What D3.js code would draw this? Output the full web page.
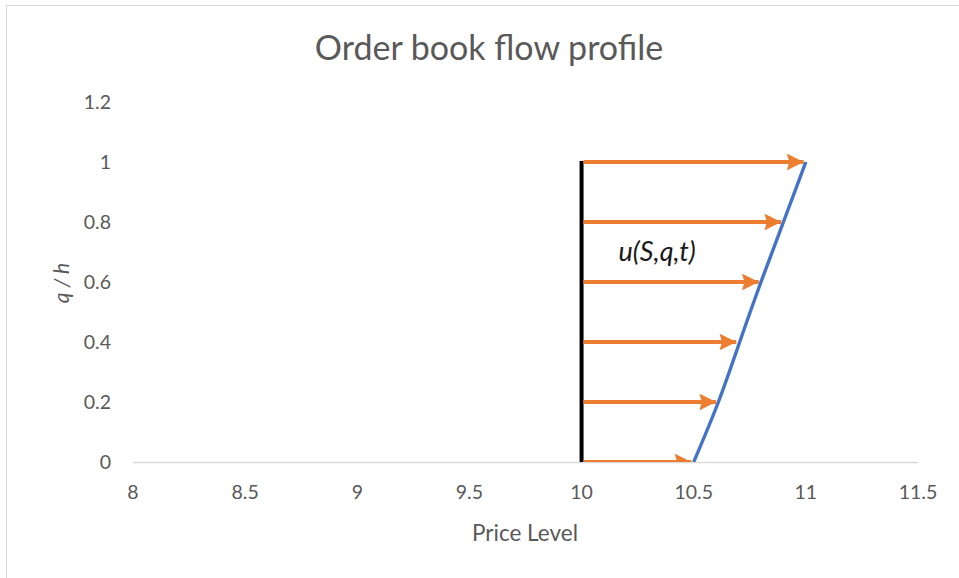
<!DOCTYPE html>
<html><head><meta charset="utf-8">
<script src="https://cdn.jsdelivr.net/npm/d3@7"></script>
<style>body{margin:0;background:#fff}svg{display:block}text{font-family:Lato,"Open Sans",sans-serif;fill:#595959}</style>
</head><body><svg id="c" width="959" height="578"></svg>
<script>
const title = "Order book flow profile";
const xLabel = "Price Level";
const yLabel = "q / h";
const xTicks = [8, 8.5, 9, 9.5, 10, 10.5, 11, 11.5];
const yTicks = [0, 0.2, 0.4, 0.6, 0.8, 1, 1.2];
const levels = [0, 0.2, 0.4, 0.6, 0.8, 1];
const profile = [10.5, 10.61, 10.705, 10.80, 10.90, 11.0];
const arrowEnds = [10.49, 10.60, 10.69, 10.79, 10.89, 10.99];
const wallPrice = 10;
const annotation = "u(S,q,t)";
const annotationPos = [10.165, 0.7];

const svg = d3.select("#c");
const x = d3.scaleLinear().domain([8, 11.5]).range([133, 918]);
const y = d3.scaleLinear().domain([0, 1.2]).range([462, 102]);

svg.append("rect").attr("x",6.5).attr("y",5.5).attr("width",1000).attr("height",1000)
  .attr("fill","#fff").attr("stroke","#d9d9d9");

svg.append("text").attr("x",489).attr("y",60).attr("text-anchor","middle")
  .style("font-size","34px").text(title);

const defs = svg.append("defs");
defs.append("clipPath").attr("id","plot").append("rect")
  .attr("x",133).attr("y",90).attr("width",785).attr("height",372);
defs.append("marker").attr("id","ah").attr("viewBox","0 0 10 10")
  .attr("refX",10).attr("refY",5).attr("markerWidth",4.4).attr("markerHeight",4.2)
  .attr("markerUnits","strokeWidth").attr("orient","auto")
  .append("path").attr("d","M0,0 L10,5 L0,10 L1.5,5 Z").attr("fill","#ED7D31");

// axis line
svg.append("line").attr("x1",x(8)).attr("x2",x(11.5)).attr("y1",y(0)+0.5).attr("y2",y(0)+0.5)
  .attr("stroke","#d9d9d9").attr("stroke-width",1.3);

// y tick labels
svg.append("g").selectAll("text").data(yTicks).join("text")
  .attr("x",111).attr("y",d=>y(d)).attr("dy","0.35em").attr("text-anchor","end")
  .style("font-size","19.5px").text(d=>d);
// x tick labels
svg.append("g").selectAll("text").data(xTicks).join("text")
  .attr("x",d=>x(d)).attr("y",492).attr("dy","0.35em").attr("text-anchor","middle")
  .style("font-size","19.5px").text(d=>d);

svg.append("text").attr("x",525).attr("y",533).attr("dy","0.35em").attr("text-anchor","middle")
  .style("font-size","22.5px").text(xLabel);
svg.append("text").attr("transform","translate(62,283) rotate(-90)").attr("dy","0.35em")
  .attr("text-anchor","middle").style("font-size","21px").style("font-style","italic").text(yLabel);

const g = svg.append("g").attr("clip-path","url(#plot)");
// black wall
g.append("line").attr("x1",x(wallPrice)).attr("x2",x(wallPrice)).attr("y1",y(0)).attr("y2",y(1)-1)
  .attr("stroke","#000").attr("stroke-width",4);
// arrows
g.selectAll("line.arr").data(levels).join("line").attr("class","arr")
  .attr("x1",x(wallPrice)+2).attr("x2",(d,i)=>x(arrowEnds[i])).attr("y1",d=>y(d)).attr("y2",d=>y(d))
  .attr("stroke","#ED7D31").attr("stroke-width",4).attr("marker-end","url(#ah)");
// profile curve
g.append("path").datum(levels.map((l,i)=>[profile[i], l]))
  .attr("d", d3.line().x(d=>x(d[0])).y(d=>y(d[1])).curve(d3.curveNatural))
  .attr("fill","none").attr("stroke","#4472C4").attr("stroke-width",3.4);

svg.append("text").attr("x",x(annotationPos[0])).attr("y",y(annotationPos[1])+9)
  .style("font-size","27px").style("font-style","italic").style("fill","#1a1a1a").text(annotation);
</script></body></html>
